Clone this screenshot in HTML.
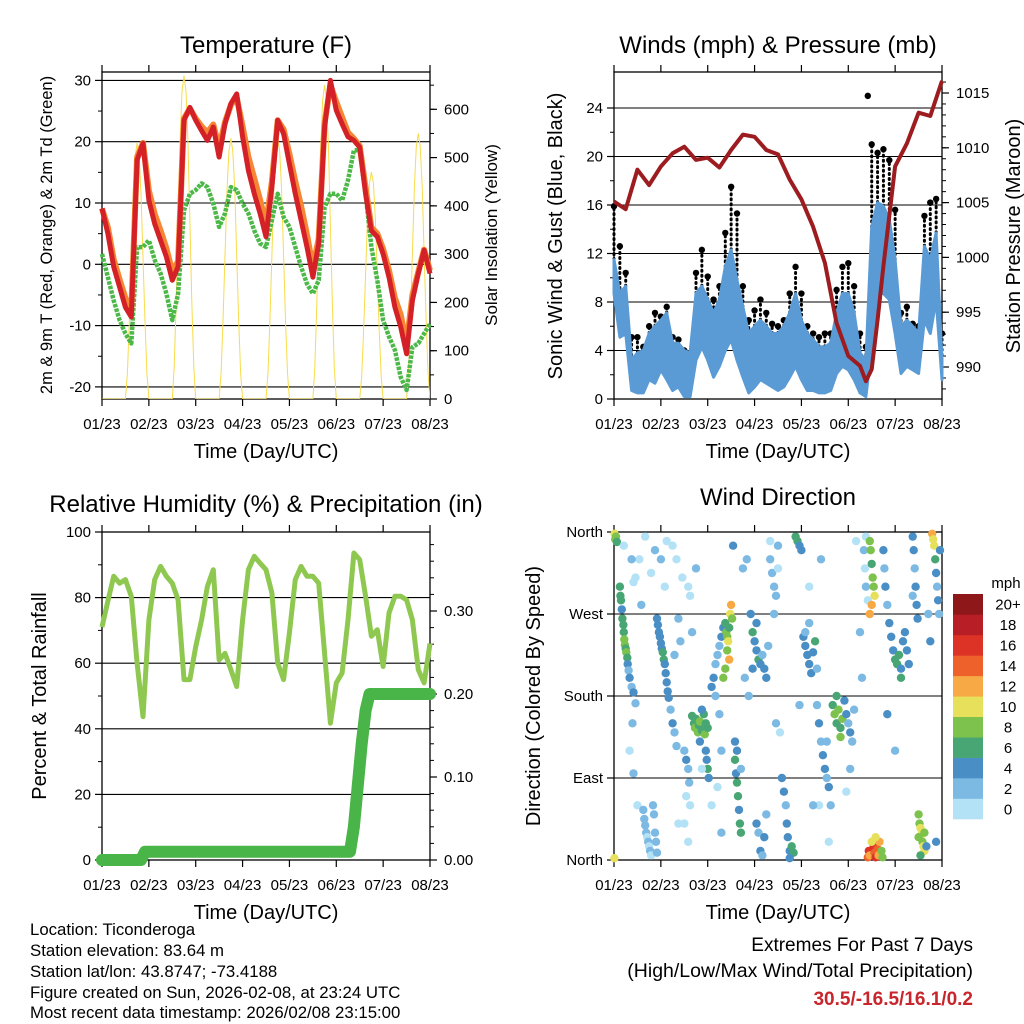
<!DOCTYPE html>
<html><head><meta charset="utf-8"><title>Weather station charts</title>
<style>
html,body{margin:0;padding:0;background:#fff;}
svg{display:block;font-family:"Liberation Sans",Arial,sans-serif;}
</style></head>
<body>
<svg id="fig" width="1024" height="1024" viewBox="0 0 1024 1024">
<rect x="0" y="0" width="1024" height="1024" fill="#fff"/>
<text x="266" y="53" font-size="24" text-anchor="middle">Temperature (F)</text>
<text x="778" y="53" font-size="24" text-anchor="middle">Winds (mph) &amp; Pressure (mb)</text>
<text x="266" y="512" font-size="24" text-anchor="middle">Relative Humidity (%) &amp; Precipitation (in)</text>
<text x="778" y="505" font-size="24" text-anchor="middle">Wind Direction</text>
<text transform="translate(52,235) rotate(-90)" font-size="16.5" text-anchor="middle">2m &amp; 9m T (Red, Orange) &amp; 2m Td (Green)</text>
<text transform="translate(497,235) rotate(-90)" font-size="17" text-anchor="middle">Solar Insolation (Yellow)</text>
<text transform="translate(562,236) rotate(-90)" font-size="20" text-anchor="middle">Sonic Wind &amp; Gust (Blue, Black)</text>
<text transform="translate(1020,236) rotate(-90)" font-size="20" text-anchor="middle">Station Pressure (Maroon)</text>
<text transform="translate(46,696) rotate(-90)" font-size="20" text-anchor="middle">Percent &amp; Total Rainfall</text>
<text transform="translate(540,696) rotate(-90)" font-size="20" text-anchor="middle">Direction (Colored By Speed)</text>
<g font-size="16.8">
<text x="30" y="935">Location: Ticonderoga</text>
<text x="30" y="956">Station elevation: 83.64 m</text>
<text x="30" y="977">Station lat/lon: 43.8747; -73.4188</text>
<text x="30" y="998">Figure created on Sun, 2026-02-08, at 23:24 UTC</text>
<text x="30" y="1018">Most recent data timestamp: 2026/02/08 23:15:00</text>
</g>
<text x="973" y="951" font-size="19" text-anchor="end">Extremes For Past 7 Days</text>
<text x="973" y="977" font-size="19.5" text-anchor="end">(High/Low/Max Wind/Total Precipitation)</text>
<text x="973" y="1005" font-size="19" font-weight="bold" fill="#c8262c" text-anchor="end">30.5/-16.5/16.1/0.2</text>
</svg>
<script>
// ---------- data ----------
const xTickLabels = ["01/23","02/23","03/23","04/23","05/23","06/23","07/23","08/23"];
const hours3 = [0,3,6,9,12,15,18,21,24,27,30,33,36,39,42,45,48,51,54,57,60,63,66,69,72,75,78,81,84,87,90,93,96,99,102,105,108,111,114,117,120,123,126,129,132,135,138,141,144,147,150,153,156,159,162,165,168];
const temp2m = [9.1,5,-0.4,-3.7,-7,-8.6,17,19.7,10.4,6.6,3.9,1.2,-2.6,-0.4,23.5,25.6,23.5,21.8,20.2,22.4,17.5,22.9,26.2,27.8,20.8,15.3,11.5,8.3,4.5,12.6,23.5,21.3,16.4,11.5,7.2,2.8,-2.1,3.4,22.4,30,25.1,22.9,20.8,20.2,19.1,11.5,5.5,4.5,1.7,-2.1,-7,-10.2,-14.6,-5.9,-1.5,2.3,-1.5];
const temp9m = [9.1,6,0.8,-2.5,-5.5,-7.5,17.5,19.8,12,8.2,5.5,2.6,-1.2,0.5,23.8,25.4,23.8,22.5,21.5,22.8,19,23.2,26,27.2,22.5,17.5,14,10.5,6.5,13.5,23.5,22,18,13.5,9.5,4.8,-0.5,4.2,23,29.2,26.5,24,21.5,20.5,19.3,12.5,6,5,2.5,-1,-5.5,-8.2,-13,-5,-1.2,2.4,-1];
const dewPt = [1.7,-2.1,-5.9,-9.1,-11.3,-12.9,2.8,2.8,3.9,0.7,-1.5,-4.8,-9.1,-4.8,8.8,11.5,12.1,13.2,12.6,9.9,6.1,8.3,12.6,12.1,9.9,8.3,5.5,3.4,2.8,7.2,11.5,7.7,6.1,2.8,-0.4,-3.2,-4.8,-2.6,9.3,11.5,11.5,10.4,13.7,18.6,18.6,11.5,2.8,-2.6,-9.1,-11.8,-14,-18.4,-20.5,-13.5,-12.9,-11.3,-9.7];
const solar = [0,0,0,0,0,0,0,0,0,0,0,0,0,53,159,292,424,504,530,504,424,292,159,53,0,0,0,0,0,0,0,0,0,0,0,0,0,67,201,369,536,637,670,637,536,369,201,67,0,0,0,0,0,0,0,0,0,0,0,0,0,54,162,297,432,513,540,513,432,297,162,54,0,0,0,0,0,0,0,0,0,0,0,0,0,54,162,297,432,513,540,513,432,297,162,54,0,0,0,0,0,0,0,0,0,0,0,0,0,65,195,358,520,618,650,618,520,358,195,65,0,0,0,0,0,0,0,0,0,0,0,0,0,47,141,259,376,447,470,447,376,259,141,47,0,0,0,0,0,0,0,0,0,0,0,0,0,55,165,303,440,523,550,523,440,303,165,55,0];
const windTop = [11.5,8.7,9.3,3.2,3.8,4.0,5.4,6.0,6.5,7.1,4.6,4.6,4.0,3.8,8.7,9.3,8.2,7.1,8.2,10.9,12.3,9.8,7.6,5.4,6.0,6.5,6.0,5.4,5.4,6.0,7.1,8.7,6.5,5.4,4.9,4.3,4.3,4.6,7.1,8.7,8.7,7.1,3.8,3.2,14.2,16.2,15.9,14.8,11.5,6.0,6.5,6.0,5.4,12.6,11.5,13.7,3.2];
const windLow = [8.7,5.1,5.4,0.7,0.5,0.5,1.6,1.3,2.4,1.6,0.7,1.0,0.2,0.2,3.2,4.3,3.2,1.8,2.7,4.0,4.9,3.2,1.8,0.5,1.0,1.6,1.3,1.0,0.7,1.0,1.8,2.7,1.6,0.7,0.7,0.5,0.5,0.7,2.1,2.7,2.4,1.6,0.5,0.2,4.3,8.7,8.7,8.2,5.4,2.1,2.7,2.4,2.1,6.5,5.4,8.2,1.6];
const gust = [15.9,12.6,10.4,5.1,5.1,4.3,6.0,7.1,6.8,7.6,5.1,4.9,4.0,3.8,10.4,12.3,10.1,8.2,9.3,13.7,17.5,15.3,9.3,6.5,7.3,8.2,7.1,6.2,6.0,6.5,8.7,10.9,8.7,6.0,5.4,5.1,5.4,5.4,9.0,10.9,11.2,9.3,5.4,4.3,21.0,20.3,20.6,19.7,15.6,7.1,7.6,6.2,6.0,15.1,16.2,16.5,5.4];
const peakGustHour = [130];
const peakGust = [25.0];
const presHours = [0,6,12,18,24,30,36,42,48,54,60,66,72,78,84,90,96,102,108,114,120,126,129,132,135,138,144,150,156,162,168];
const pressure = [1005.1,1004.4,1008,1006.6,1008.3,1009.5,1010.1,1008.9,1009.1,1008.2,1009.8,1011.2,1011,1009.8,1009.4,1007.1,1005.3,1002.8,999.5,994,991,990.1,988.7,989.8,994.3,999.2,1008.3,1010.4,1013.2,1012.9,1016.1];
const rh = [71,79,86.5,84.4,85.5,80.4,60,43.7,73.2,85.5,89.5,86.5,84.4,79.3,55,55,65,73.2,83.4,88.5,61,63,58,52.9,73.2,88.5,92.6,90.5,88.5,81.4,60,55,69.2,85.5,89.5,86.5,86.5,84.4,63,41.7,54,57,73.2,93.6,91.6,80.4,68.2,70.2,59,75.3,80.4,80.4,79.3,73.2,58,54,66];
const precipHours = [0,20,22,127,129,131,133,135,137,168];
const precip = [0,0,0.01,0.01,0.04,0.09,0.14,0.18,0.2,0.2];
const wdHour = [0.3,0.6,1,1.5,0.2, 3,3.3,3.6,4,4.3,4.8,5,5.3,5.6,6,6.3,6.8,7,7.5,8,9,10,11,9.5,8,10,12,13,11, 15,15.5,16,16.5,17,17.5,18,18.5,19,20,20.5,21,21.5,22,19,21, 22,22.5,23,23.5,24,24.5,25,25.5,26,26.5,27,27.5,28,29,30,31,32,33,34,31,32,30, 36,37,38,38.5,37,39,36,38,38,39,40, 40,41,41.5,42,43,43.5,44,45,46,46.5,47,48,45,44, 47,47.5,48,48.5,50,51,52,53,54,55,56,52,54,55,53, 57,57.5,58,58.5,59,59.5,60,60.5,58,59,57,56, 62,62.5,63,63.5,64,64.5,65,63,62,65, 70,71,72,73,74,75,76,77,78,79,71,73, 73,74,75,76,77,78, 80,81,82,83,84,82,80,84, 86,87,88,88.5,89,90,91,92,90, 93,94,95,96, 97,98,99,100,101,102,103,104,98,100, 104,105,106,107,108,109,110,111,105,109, 112,113,114,115,116,117,114,116, 118,119,120,121,122,123,121,119, 128,128.5,129,130,129, 131,131.5,132,132.5,133,133.5,132,131, 130,130.5,131,133,133.5,134,135,135.5,136,134,136.5,137,137.5,132, 138,138.5,139,140,141,142,143,144,145,146,147,148,149,150,151,147, 153,153.5,154,154.5,155,155.5,153, 156,156.5,157,157.5,158,158.5,159,156,157,159, 163,163.5,164,164.5,165,165.5,166,166.5,167,165, 5,9,10,14,16,24,26,27,33,35,42,45,50,55,61,66,67,68,69,83,85,95,100,102,106,110,124,126,127,140,144,160,161,162];
const wdDir = [358,352,355,349,2, 300,290,285,275,265,258,250,242,236,232,228,222,215,208,200,190,184,172,150,120,95,60,330,310, 55,45,38,30,25,20,15,10,5,60,50,30,20,8,315,340, 265,258,250,245,238,232,228,220,215,205,195,185,178,165,150,140,125,265,240,225,330,345, 120,110,100,85,70,60,40,20,300,290,250, 158,150,145,155,140,148,152,142,160,138,150,145,165,130, 120,110,100,90,190,200,215,225,235,245,255,180,160,120,80, 260,250,245,240,255,270,280,265,230,220,210,200, 110,95,85,70,55,40,30,120,130,100, 270,250,240,230,220,215,225,210,200,235,210,260, 40,30,10,5,25,50, 330,315,300,290,320,270,350,345, 90,75,60,40,25,10,15,8,2, 355,350,345,340, 245,235,225,215,205,228,240,210,250,260, 170,150,130,115,100,90,80,60,60,130, 170,160,150,165,145,155,180,135, 175,160,150,140,130,165,100,75, 340,320,300,285,355, 350,340,325,310,300,290,280,270, 3,10,5,15,8,3,12,5,20,25,6,10,3,20, 340,320,300,280,260,245,230,220,215,225,210,240,250,230,215,200, 355,340,320,300,280,265,290, 50,40,35,28,20,15,10,25,5,30, 358,352,345,330,315,300,285,270,340,20, 345,330,305,280,355,330,300,350,40,310,320,100,60,30,345,320,200,330,180,150,140,170,300,60,330,20,350,250,200,160,120,15,270,240,300];
const wdSpd = [10,9,8,7,10, 6,7,6,5,6,7,7,8,8,7,8,6,4,3,4,3,4,2,2,1,2,1,1,1, 2,3,2,2,1,2,1,2,1,3,3,2,3,2,1,3, 4,4,4,4,4,5,6,6,5,4,4,4,4,3,4,3,3,2,3,2,1,1, 2,4,3,3,1,1,1,1,1,1,2, 7,7,8,7,8,7,8,7,7,8,7,7,4,4, 4,4,6,4,4,4,2,3,3,4,4,3,2,2,1, 7,8,9,10,7,10,12,8,9,12,8,8, 6,4,6,6,5,7,6,4,4,2, 4,6,4,5,6,4,3,4,4,3,5,4, 4,2,4,3,4,2, 2,2,3,2,1,3,1,2, 4,4,3,4,4,5,7,6,4, 6,6,4,4, 4,4,4,4,4,4,6,3,3,2, 2,4,3,4,4,3,4,3,1,2, 7,8,7,8,7,8,6,8, 4,4,3,4,2,2,2,1, 2,1,2,1,1, 8,9,7,8,8,10,12,13, 14,17,13,16,14,17,15,13,12,11,13,9,8,11, 4,3,4,3,4,4,4,6,6,6,5,4,4,4,4,6, 4,4,3,4,4,4,2, 9,9,10,10,8,10,11,8,7,9, 12,11,10,6,4,3,4,3,4,4, 1,2,1,2,0,2,1,1,1,0,2,1,1,2,4,2,2,2,3,2,1,2,1,2,2,1,1,3,3,4,2,4,3,4];
const tempTicks = [-20,-10,0,10,20,30];
const solarTicks = [0,100,200,300,400,500,600];
const windTicks = [0,4,8,12,16,20,24];
const presTicks = [990,995,1000,1005,1010,1015];
const rhTicks = [0,20,40,60,80,100];
const precipTicks = [0,0.1,0.2,0.3];
const dirTicks = [0,90,180,270,360];
const dirLabels = ["North","East","South","West","North"];
const speedBins = ["0","2","4","6","8","10","12","14","16","18","20+"];
const speedColors = ["#b3e2f6","#7cb9e3","#4a8ec6","#48a674","#7cc24c","#e6e05a","#f6a944","#ee612b","#dd3327","#b71e25","#8e1719"];

// ---------- helpers ----------
const NS = "http://www.w3.org/2000/svg";
const svg = document.getElementById("fig");
function mk(tag, attrs, parent) {
  const e = document.createElementNS(NS, tag);
  for (const k in attrs) e.setAttribute(k, attrs[k]);
  (parent || svg).appendChild(e);
  return e;
}
function txt(x, y, s, size, anchor, parent) {
  const t = mk("text", {x: x, y: y, "font-size": size, "text-anchor": anchor}, parent);
  t.textContent = s;
  return t;
}
function lin(d0, d1, r0, r1) { return v => r0 + (v - d0) / (d1 - d0) * (r1 - r0); }
function pathFrom(xs, ys, xf, yf) {
  return xs.map((h, i) => (i ? "L" : "M") + xf(h).toFixed(1) + "," + yf(ys[i]).toFixed(1)).join(" ");
}

function frame(p, name) {
  const g = mk("g", {});
  
  
  const r = mk("rect", {x: p.x0, y: p.y0, width: p.x1 - p.x0, height: p.y1 - p.y0, fill: "none", stroke: "#000", "stroke-width": 1.3}, g);
  
  
  const xs = lin(0, 168, p.x0, p.x1);
  xTickLabels.forEach((lab, i) => {
    const x = xs(i * 24);
    mk("line", {x1: x, y1: p.y1, x2: x, y2: p.y1 + 7, stroke: "#000", "stroke-width": 1.2}, g);
    mk("line", {x1: x, y1: p.y0, x2: x, y2: p.y0 - 7, stroke: "#000", "stroke-width": 1.2}, g);
    const t = txt(x, p.y1 + 30, lab, 15, "middle", g);
    
    
  });
  const xt = txt((p.x0 + p.x1) / 2, p.y1 + 59, "Time (Day/UTC)", 20, "middle", g);
  
  
  return g;
}
function leftAxis(p, ticks, yf, labels, gridTicks, minorStep, g) {
  ticks.forEach((v, i) => {
    const y = yf(v);
    mk("line", {x1: p.x0 - 7, y1: y, x2: p.x0, y2: y, stroke: "#000", "stroke-width": 1.2}, g);
    if (gridTicks.indexOf(v) >= 0) mk("line", {x1: p.x0, y1: y, x2: p.x1, y2: y, stroke: "#000", "stroke-width": 1.1}, g);
    const t = txt(p.x0 - 11, y + 5, labels ? labels[i] : String(v), 15, "end", g);
    
    
  });
  if (minorStep) {
    for (let v = ticks[0] + minorStep; v < ticks[ticks.length - 1]; v += minorStep * 2) {
      const y = yf(v);
      mk("line", {x1: p.x0 - 4, y1: y, x2: p.x0, y2: y, stroke: "#000", "stroke-width": 1}, g);
    }
  }
}
function rightAxis(p, ticks, yf, fmt, minorStep, g) {
  ticks.forEach(v => {
    const y = yf(v);
    mk("line", {x1: p.x1, y1: y, x2: p.x1 + 7, y2: y, stroke: "#000", "stroke-width": 1.2}, g);
    const t = txt(p.x1 + 14, y + 5, fmt(v), 15, "start", g);
    
    
  });
  if (minorStep) {
    const lo = yf.lo, hi = yf.hi;
    for (let v = lo; v <= hi + 1e-9; v += minorStep) {
      const y = yf(v);
      if (y < p.y0 - 0.5 || y > p.y1 + 0.5) continue;
      mk("line", {x1: p.x1, y1: y, x2: p.x1 + 4, y2: y, stroke: "#000", "stroke-width": 1}, g);
    }
  }
}

// ---------- Panel 1: Temperature ----------
(function () {
  const p = {x0: 102, x1: 430, y0: 72, y1: 399};
  const xs = lin(0, 168, p.x0, p.x1);
  const ys = lin(0, 10, 264.3, 203);
  const ysol = lin(0, 600, 399, 109.3);
  ysol.lo = 0; ysol.hi = 650;
  const g = frame(p, "temperature");
  leftAxis(p, tempTicks, ys, null, tempTicks, 5, g);
  rightAxis(p, solarTicks, ysol, v => String(v), 50, g);
  const clip = mk("clipPath", {id: "c1"});
  mk("rect", {x: p.x0, y: p.y0, width: p.x1 - p.x0, height: p.y1 - p.y0}, clip);
  const solarHours = solar.map((v, i) => i);
  const s = mk("path", {d: pathFrom(solarHours, solar, xs, ysol), fill: "none", stroke: "#f7dc4a", "stroke-width": 1, "clip-path": "url(#c1)"});
  
  
  const d = mk("path", {d: pathFrom(hours3, dewPt, xs, ys), fill: "none", stroke: "#4cb848", "stroke-width": 4.5, "stroke-dasharray": "3.5 1.2", "stroke-linejoin": "round"});
  
  
  const o = mk("path", {d: pathFrom(hours3, temp9m, xs, ys), fill: "none", stroke: "#f58634", "stroke-width": 6, "stroke-linejoin": "round"});
  
  
  const r = mk("path", {d: pathFrom(hours3, temp2m, xs, ys), fill: "none", stroke: "#d42127", "stroke-width": 5, "stroke-linejoin": "round"});
  
  
})();

// ---------- Panel 2: Winds & Pressure ----------
(function () {
  const p = {x0: 614, x1: 942, y0: 72, y1: 399};
  const xs = lin(0, 168, p.x0, p.x1);
  const ys = lin(0, 24, 399, 108);
  const yp = lin(990, 1015, 367, 93);
  yp.lo = 988; yp.hi = 1016;
  const g = frame(p, "winds");
  leftAxis(p, windTicks, ys, null, windTicks.slice(1), 2, g);
  rightAxis(p, presTicks, yp, v => String(v), 1, g);
  hours3.forEach((h, i) => {
    const l = mk("line", {x1: xs(h), y1: ys(windTop[i]), x2: xs(h), y2: ys(gust[i]), stroke: "#000", "stroke-width": 3, "stroke-linecap": "round", "stroke-dasharray": "1 4"});
    
    
    const c = mk("circle", {cx: xs(h), cy: ys(gust[i]), r: 3.2, fill: "#000"});
    
    
  });
  peakGustHour.forEach((h, i) => {
    const c = mk("circle", {cx: xs(h), cy: ys(peakGust[i]), r: 3.2, fill: "#000"});
    
    
  });
  const top = hours3.map((h, i) => (i ? "L" : "M") + xs(h).toFixed(1) + "," + ys(windTop[i]).toFixed(1)).join(" ");
  const bot = hours3.slice().reverse().map((h, j) => "L" + xs(h).toFixed(1) + "," + ys(windLow[hours3.length - 1 - j]).toFixed(1)).join(" ");
  const band = mk("path", {d: top + " " + bot + " Z", fill: "#5b9bd5", stroke: "#5b9bd5", "stroke-width": 3, "stroke-linejoin": "round"});
  
  
  const pr = mk("path", {d: pathFrom(presHours, pressure, xs, yp), fill: "none", stroke: "#9c1c1f", "stroke-width": 4, "stroke-linejoin": "round"});
  
  
})();

// ---------- Panel 3: RH & Precip ----------
(function () {
  const p = {x0: 102, x1: 430, y0: 532, y1: 860};
  const xs = lin(0, 168, p.x0, p.x1);
  const ys = lin(0, 100, 860, 532);
  const yp = lin(0, 0.1, 860, 777);
  yp.lo = 0; yp.hi = 0.39;
  const g = frame(p, "humidity");
  leftAxis(p, rhTicks, ys, null, [20, 40, 60, 80], 10, g);
  rightAxis(p, precipTicks, yp, v => v.toFixed(2), 0.02, g);
  const r = mk("path", {d: pathFrom(hours3, rh, xs, ys), fill: "none", stroke: "#8fc850", "stroke-width": 5, "stroke-linejoin": "round"});
  
  
  const pc = mk("path", {d: pathFrom(precipHours, precip, xs, yp), fill: "none", stroke: "#49b448", "stroke-width": 12, "stroke-linejoin": "round", "stroke-linecap": "round"});
  
  
})();

// ---------- Panel 4: Wind Direction ----------
(function () {
  const p = {x0: 614, x1: 942, y0: 532, y1: 860};
  const xs = lin(0, 168, p.x0, p.x1);
  const ys = lin(0, 360, 860, 532);
  const g = frame(p, "direction");
  leftAxis(p, dirTicks, ys, dirLabels, [90, 180, 270], 0, g);
  wdHour.forEach((h, i) => {
    const idx = Math.min(10, Math.floor(wdSpd[i] / 2));
    const c = mk("circle", {cx: xs(h).toFixed(1), cy: ys(wdDir[i]).toFixed(1), r: 4.2, fill: speedColors[idx]});
    
    
  });
  const cb = mk("g", {});
  
  
  const h = (819 - 594) / 11;
  for (let k = 0; k < 11; k++) {
    const y = 594 + (10 - k) * h;
    const b = mk("rect", {x: 953, y: y, width: 30, height: h + 0.3, fill: speedColors[k]}, cb);
    
    
    const t = txt(1008, y + h / 2 + 5.5, speedBins[k], 15, "middle", cb);
    
    
  }
  const u = txt(1006, 588, "mph", 15, "middle", cb);
  
  
})();
</script>
</body></html>
